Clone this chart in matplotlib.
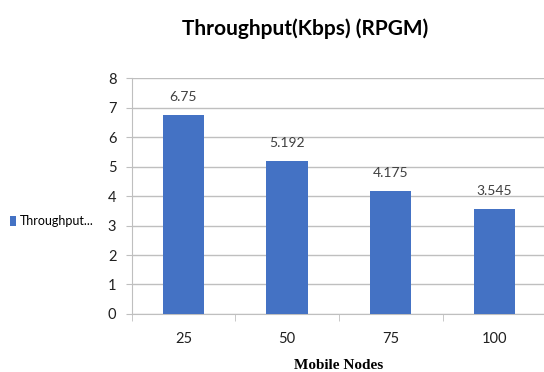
import matplotlib.pyplot as plt
from matplotlib.ticker import FixedLocator

# Throughput for each node count (RPGM)
nodes = ["25", "50", "75", "100"]
throughput = [6.75, 5.192, 4.175, 3.545]
value_labels = ["6.75", "5.192", "4.175", "3.545"]

narrow = ["Lato", "DejaVu Sans"]
bar_color = "#4472C4"

fig = plt.figure(figsize=(5.44, 3.72), dpi=100)
ax = fig.add_axes([0.242, 0.156, 0.762, 0.634])

x = range(len(nodes))
bars = ax.bar(x, throughput, width=0.4, color=bar_color, zorder=3,
              label="Throughput...")

for i, (v, lab) in enumerate(zip(throughput, value_labels)):
    ax.text(i, v + 0.42, lab, ha="center", va="bottom",
            fontsize=10, family=narrow, color="#404040")

ax.set_xlim(-0.5, 3.5)
ax.set_ylim(0, 8)
ax.set_yticks(range(0, 9))
ax.yaxis.grid(True, color="#bfbfbf", linewidth=1, zorder=0)

ax.set_xticks(list(x))
ax.set_xticklabels(nodes)
ax.xaxis.set_minor_locator(FixedLocator([-0.5, 0.5, 1.5, 2.5, 3.5]))
ax.tick_params(axis="x", which="major", length=0, pad=13)
ax.tick_params(axis="x", which="minor", length=5, color="#bfbfbf")
ax.tick_params(axis="y", length=4, color="#bfbfbf", pad=7)
for lbl in ax.get_xticklabels() + ax.get_yticklabels():
    lbl.set_family(narrow)
    lbl.set_fontsize(10.5)
    lbl.set_color("#202020")

for s in ["top", "right"]:
    ax.spines[s].set_visible(False)
ax.spines["left"].set_color("#bfbfbf")
ax.spines["bottom"].set_color("#bfbfbf")

ax.set_xlabel("Mobile Nodes", family=["Liberation Serif", "DejaVu Serif"],
              fontweight="bold", fontsize=11, labelpad=9)

fig.text(0.561, 0.922, "Throughput(Kbps) (RPGM)", ha="center", va="center",
         family=narrow, fontweight="bold", fontsize=15)

fig.legend(handles=[bars], loc="center left", bbox_to_anchor=(0.0, 0.405),
           frameon=False, prop={"family": narrow, "size": 9},
           handlelength=0.45, handleheight=0.9, handletextpad=0.3,
           borderaxespad=0.4)

plt.savefig("out.png", dpi=100)
